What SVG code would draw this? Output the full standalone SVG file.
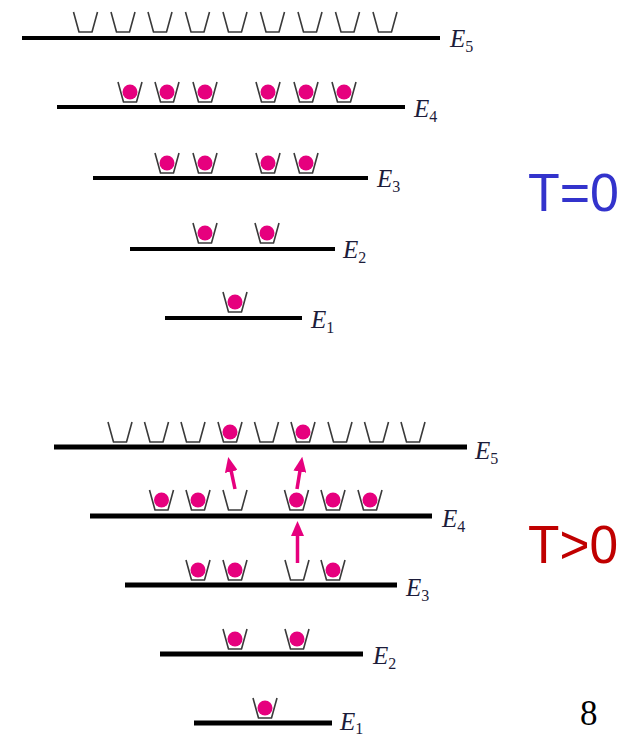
<svg xmlns="http://www.w3.org/2000/svg" xmlns:xlink="http://www.w3.org/1999/xlink" width="630" height="736" viewBox="0 0 630 736">
<style>
.lvl{stroke:#000;stroke-width:4;stroke-linecap:butt}
.lvlb{stroke:#000;stroke-width:5}
.bk{fill:none;stroke:#3a3a3a;stroke-width:1.6;stroke-linejoin:round}
.ball{fill:#e6007e}
.lab{font-family:"Liberation Serif",serif;font-style:italic;font-size:25px;fill:#1c1c3a}
.sub{font-size:16px;font-style:normal}
.arr{stroke:#e6007e;stroke-width:3.5;fill:none}
</style>
<defs>
<path id="b" class="bk" d="M-12,0 L-6.5,20 L6.5,20 L12,0"/>
<g id="f"><use xlink:href="#b"/><circle class="ball" cx="0" cy="10" r="7.5"/></g>
<marker id="ah" markerUnits="userSpaceOnUse" viewBox="0 0 15 13" markerWidth="15" markerHeight="13" refX="1" refY="6.5" orient="auto"><path d="M0,0 L15,6.5 L0,13 z" fill="#e6007e"/></marker>
</defs>

<g id="top-E5">
<line class="lvl" x1="22" y1="38" x2="440" y2="38"/>
<use xlink:href="#b" x="85.5" y="12"/><use xlink:href="#b" x="123" y="12"/><use xlink:href="#b" x="160" y="12"/><use xlink:href="#b" x="197.5" y="12"/><use xlink:href="#b" x="235" y="12"/><use xlink:href="#b" x="272.5" y="12"/><use xlink:href="#b" x="310" y="12"/><use xlink:href="#b" x="347.5" y="12"/><use xlink:href="#b" x="385" y="12"/>
<text class="lab" x="450" y="47">E<tspan class="sub" dy="5">5</tspan></text>
</g>
<g id="top-E4">
<line class="lvl" x1="57" y1="107" x2="405" y2="107"/>
<use xlink:href="#f" x="130" y="82"/><use xlink:href="#f" x="167" y="82"/><use xlink:href="#f" x="205" y="82"/><use xlink:href="#f" x="268" y="82"/><use xlink:href="#f" x="306" y="82"/><use xlink:href="#f" x="344" y="82"/>
<text class="lab" x="414" y="117">E<tspan class="sub" dy="5">4</tspan></text>
</g>
<g id="top-E3">
<line class="lvl" x1="93" y1="178" x2="368" y2="178"/>
<use xlink:href="#f" x="167" y="153"/><use xlink:href="#f" x="205" y="153"/><use xlink:href="#f" x="268" y="153"/><use xlink:href="#f" x="306" y="153"/>
<text class="lab" x="377" y="187">E<tspan class="sub" dy="5">3</tspan></text>
</g>
<g id="top-E2">
<line class="lvl" x1="130" y1="249" x2="335" y2="249"/>
<use xlink:href="#f" x="205" y="223"/><use xlink:href="#f" x="267" y="223"/>
<text class="lab" x="343" y="258">E<tspan class="sub" dy="5">2</tspan></text>
</g>
<g id="top-E1">
<line class="lvl" x1="165" y1="318" x2="302" y2="318"/>
<use xlink:href="#f" x="235" y="292"/>
<text class="lab" x="311" y="328">E<tspan class="sub" dy="5">1</tspan></text>
</g>
<text id="t0" x="528" y="211" font-family="'Liberation Sans',sans-serif" font-size="54" fill="#3333cc" textLength="91" lengthAdjust="spacingAndGlyphs">T=0</text>

<g id="bot-E5">
<line class="lvlb" x1="54" y1="447" x2="467" y2="447"/>
<use xlink:href="#b" x="120" y="422"/><use xlink:href="#b" x="156.5" y="422"/><use xlink:href="#b" x="193" y="422"/><use xlink:href="#f" x="230" y="422"/><use xlink:href="#b" x="266.5" y="422"/><use xlink:href="#f" x="303" y="422"/><use xlink:href="#b" x="340" y="422"/><use xlink:href="#b" x="376.5" y="422"/><use xlink:href="#b" x="413" y="422"/>
<text class="lab" x="475" y="459">E<tspan class="sub" dy="5">5</tspan></text>
</g>
<g id="bot-E4">
<line class="lvlb" x1="90" y1="516" x2="432" y2="516"/>
<use xlink:href="#f" x="161.5" y="490"/><use xlink:href="#f" x="198" y="490"/><use xlink:href="#b" x="235" y="490"/><use xlink:href="#f" x="296.5" y="490"/><use xlink:href="#f" x="333" y="490"/><use xlink:href="#f" x="370" y="490"/>
<text class="lab" x="442" y="527">E<tspan class="sub" dy="5">4</tspan></text>
</g>
<g id="bot-E3">
<line class="lvlb" x1="125" y1="585" x2="397" y2="585"/>
<use xlink:href="#f" x="198" y="560"/><use xlink:href="#f" x="235" y="560"/><use xlink:href="#b" x="297" y="560"/><use xlink:href="#f" x="333" y="560"/>
<text class="lab" x="406" y="596">E<tspan class="sub" dy="5">3</tspan></text>
</g>
<g id="bot-E2">
<line class="lvlb" x1="160" y1="654" x2="363" y2="654"/>
<use xlink:href="#f" x="235" y="629"/><use xlink:href="#f" x="297" y="629"/>
<text class="lab" x="373" y="664">E<tspan class="sub" dy="5">2</tspan></text>
</g>
<g id="bot-E1">
<line class="lvlb" x1="194" y1="723" x2="332" y2="723"/>
<use xlink:href="#f" x="265" y="698"/>
<text class="lab" x="340" y="730">E<tspan class="sub" dy="4">1</tspan></text>
</g>
<text id="tgt0" x="528" y="563" font-family="'Liberation Sans',sans-serif" font-size="54" fill="#c00000" textLength="90" lengthAdjust="spacingAndGlyphs">T&gt;0</text>

<g id="connectors">
<line class="arr" x1="235" y1="489" x2="231.1" y2="470.6" marker-end="url(#ah)"/>
<line class="arr" x1="297" y1="489" x2="300" y2="470.6" marker-end="url(#ah)"/>
<line class="arr" x1="297.5" y1="563" x2="297.5" y2="535" marker-end="url(#ah)"/>
</g>

<text id="page" x="580" y="725" font-family="'Liberation Serif',serif" font-size="35" fill="#000">8</text>
</svg>
